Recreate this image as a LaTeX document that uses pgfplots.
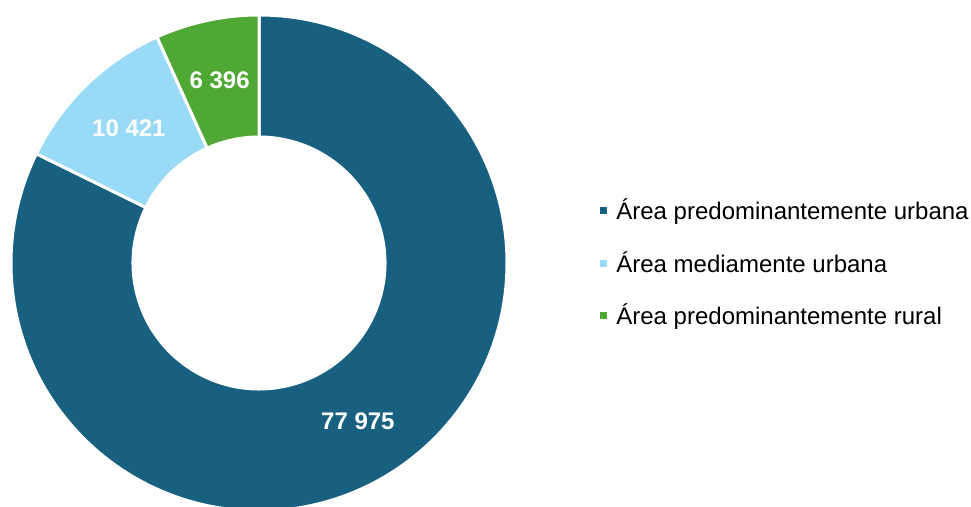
\documentclass[border=0pt]{standalone}
\usepackage{fontspec}
\setmainfont{Liberation Sans}
\usepackage{pgfplots}
\pgfplotsset{compat=1.18}
\usetikzlibrary{calc}
\definecolor{urb}{HTML}{17607F}
\definecolor{med}{HTML}{99DBF7}
\definecolor{rur}{HTML}{4EA833}

% values (units)
\def\vA{77975}
\def\vB{10421}
\def\vC{6396}
\edef\tot{\fpeval{\vA+\vB+\vC}}
% angles, clockwise from the top
\edef\aA{90}
\edef\aB{\fpeval{90-360*\vA/\tot}}
\edef\aC{\fpeval{\aB-360*\vB/\tot}}
\edef\aD{\fpeval{\aC-360*\vC/\tot}}
\edef\mA{\fpeval{(\aA+\aB)/2}}
\edef\mB{\fpeval{(\aB+\aC)/2}}
\edef\mC{\fpeval{(\aC+\aD)/2}}
\def\Ro{124pt}
\def\Ri{63pt}
\def\Rm{93.5pt}

\begin{document}
\begin{tikzpicture}
\begin{axis}[
    name=ax,
    hide axis,
    x=0.5pt, y=0.5pt,
    xmin=0, xmax=971, ymin=0, ymax=507,
    legend style={at={(axis cs:594,315)}, anchor=north west, draw=none, fill=none,
        font=\fontsize{12}{14}\selectfont, row sep=12.5pt,
        nodes={inner sep=1pt}},
    legend cell align=left,
    legend image code/.code={\fill[#1, draw=none] (0pt,-1.75pt) rectangle (3.5pt,1.75pt);
        \path[draw=none, fill=none] (0pt,0pt) -- (7pt,0pt);},
]
\fill[urb, draw=white, line width=1.5pt]
  ($(axis cs:259,244)+(\aA:\Ro)$) arc[start angle=\aA, end angle=\aB, radius=\Ro]
  -- ($(axis cs:259,244)+(\aB:\Ri)$) arc[start angle=\aB, end angle=\aA, radius=\Ri] -- cycle;
\fill[med, draw=white, line width=1.5pt]
  ($(axis cs:259,244)+(\aB:\Ro)$) arc[start angle=\aB, end angle=\aC, radius=\Ro]
  -- ($(axis cs:259,244)+(\aC:\Ri)$) arc[start angle=\aC, end angle=\aB, radius=\Ri] -- cycle;
\fill[rur, draw=white, line width=1.5pt]
  ($(axis cs:259,244)+(\aC:\Ro)$) arc[start angle=\aC, end angle=\aD, radius=\Ro]
  -- ($(axis cs:259,244)+(\aD:\Ri)$) arc[start angle=\aD, end angle=\aC, radius=\Ri] -- cycle;
\node[white, font=\fontsize{12}{14}\selectfont\bfseries] at ($(axis cs:259,244)+(\mA:\Rm)$) {77 975};
\node[white, font=\fontsize{12}{14}\selectfont\bfseries] at ($(axis cs:259,244)+(\mB:\Rm)$) {10 421};
\node[white, font=\fontsize{12}{14}\selectfont\bfseries] at ($(axis cs:259,244)+(\mC:\Rm)$) {6 396};
\addlegendimage{urb}
\addlegendentry{Área predominantemente urbana}
\addlegendimage{med}
\addlegendentry{Área mediamente urbana}
\addlegendimage{rur}
\addlegendentry{Área predominantemente rural}
\end{axis}
\pgfresetboundingbox
\path (ax.south west) rectangle (ax.north east);
\end{tikzpicture}
\end{document}
